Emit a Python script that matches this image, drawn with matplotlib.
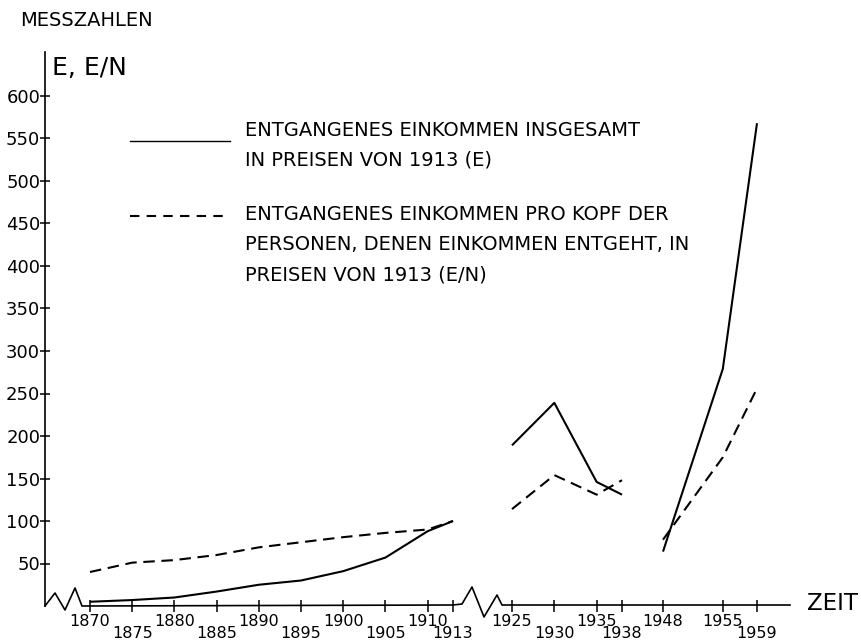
import numpy as np
import matplotlib
matplotlib.use("Agg")
import matplotlib.pyplot as plt
from matplotlib.lines import Line2D

# ---------------- data ----------------
years_a = [1870, 1875, 1880, 1885, 1890, 1895, 1900, 1905, 1910, 1913]
E_a = [5, 7, 10, 17, 25, 30, 41, 57, 88, 100]
EN_a = [40, 51, 54, 60, 69, 75, 81, 86, 90, 100]

years_b = [1925, 1930, 1935, 1938]
E_b = [189, 239, 146, 131]
EN_b = [114, 154, 131, 148]

years_c = [1948, 1955, 1959]
E_c = [64, 279, 568]
EN_c = [78, 175, 256]

xtick_upper = [1870, 1880, 1890, 1900, 1910, 1925, 1935, 1948, 1955]
xtick_lower = [1875, 1885, 1895, 1905, 1913, 1930, 1938, 1959]
yticks = [50, 100, 150, 200, 250, 300, 350, 400, 450, 500, 550, 600]

legend_E = ["ENTGANGENES EINKOMMEN INSGESAMT", "IN PREISEN VON 1913 (E)"]
legend_EN = ["ENTGANGENES EINKOMMEN PRO KOPF DER",
             "PERSONEN, DENEN EINKOMMEN ENTGEHT, IN",
             "PREISEN VON 1913 (E/N)"]

# broken time axis: anchor years and their relative positions
anchor_years = np.array([1800.0, 1870, 1913, 1925, 1938, 1948, 1959, 2050])
anchor_pos = np.array([45 - 70 * 8.44, 90, 453, 512, 622, 663, 757, 757 + 91 * 8.55])


def fwd(x):
    return np.interp(x, anchor_years, anchor_pos)


def inv(p):
    return np.interp(p, anchor_pos, anchor_years)


# ---------------- figure ----------------
W, H = 862, 641
fig = plt.figure(figsize=(W / 100, H / 100), dpi=100)
fig.patch.set_facecolor("white")

ax_l, ax_r, ax_t, ax_b = 45, 790, 52, 606
ax = fig.add_axes([ax_l / W, 1 - ax_b / H, (ax_r - ax_l) / W, (ax_b - ax_t) / H])
ax.set_xscale("function", functions=(fwd, inv))
ax.set_xlim(inv(ax_l), inv(ax_r))
ax.set_ylim(0, (ax_b - ax_t) / 0.85)

lw = 1.5
dash = (5.5, 3.2)
for yrs, e, en in [(years_a, E_a, EN_a), (years_b, E_b, EN_b), (years_c, E_c, EN_c)]:
    ax.plot(yrs, e, color="black", lw=lw, solid_capstyle="butt")
    ax.plot(yrs, en, color="black", lw=lw, dashes=dash)

# spines
for s in ["top", "right", "bottom"]:
    ax.spines[s].set_visible(False)
ax.spines["left"].set_linewidth(1.2)

# y ticks
ax.set_yticks(yticks)
ax.set_yticklabels([str(v) for v in yticks], fontsize=13)
ax.tick_params(axis="y", direction="inout", length=7, width=1.1, pad=0)

# x ticks: staggered labels
ax.set_xticks(xtick_upper)
ax.set_xticklabels([str(v) for v in xtick_upper], fontsize=11.5)
ax.set_xticks(xtick_lower, minor=True)
ax.set_xticklabels([str(v) for v in xtick_lower], minor=True, fontsize=11.5)
ax.tick_params(axis="x", which="both", direction="inout", length=9, width=1.1)
ax.tick_params(axis="x", which="major", pad=1)
ax.tick_params(axis="x", which="minor", pad=10)

# hand-drawn style x-axis with zigzag breaks (in pixel -> axes fraction)
def axpt(px, py):
    return ((px - ax_l) / (ax_r - ax_l), (ax_b - py) / (ax_b - ax_t))

axis_pts = [(45, 606), (55, 593), (65, 610), (75, 588), (82, 606), (453, 605),
            (462, 604), (472, 587), (484, 617), (497, 595), (502, 605), (790, 605)]
xs, ys = zip(*[axpt(px, py) for px, py in axis_pts])
ax.add_line(Line2D(xs, ys, transform=ax.transAxes, color="black", lw=1.2, clip_on=False))

# titles
fig.text(20 / W, 1 - 21 / H, "MESSZAHLEN", fontsize=14, ha="left", va="center")
fig.text(52 / W, 1 - 68 / H, "E, E/N", fontsize=18, ha="left", va="center")
fig.text(807 / W, 1 - 603 / H, "ZEIT", fontsize=16.5, ha="left", va="center")

# legend
fig.add_artist(Line2D([130 / W, 230 / W], [1 - 141 / H, 1 - 141 / H], color="black", lw=1.0))
fig.add_artist(Line2D([130 / W, 230 / W], [1 - 216 / H, 1 - 216 / H], color="black", lw=lw,
                      dashes=(4.5, 3.5)))
for y, t in zip([131, 160], legend_E):
    fig.text(245 / W, 1 - y / H, t, fontsize=14, ha="left", va="center")
for y, t in zip([215, 245, 275], legend_EN):
    fig.text(245 / W, 1 - y / H, t, fontsize=14, ha="left", va="center")

fig.savefig("out.png", dpi=100, facecolor="white")
